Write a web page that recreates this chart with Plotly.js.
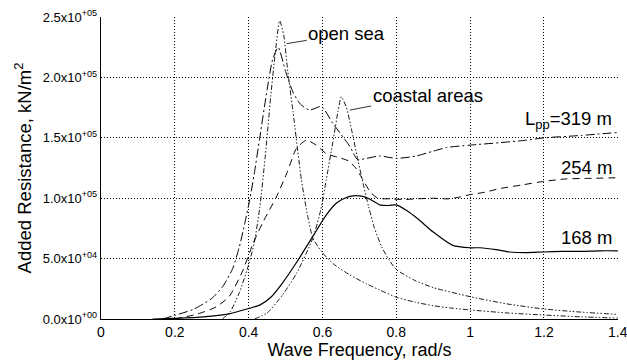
<!DOCTYPE html>
<html>
<head>
<meta charset="utf-8">
<script src="https://cdn.plot.ly/plotly-3.0.1.min.js"></script>
<style>html,body{margin:0;padding:0;background:#fff;}#chart{width:627px;height:363px;}</style>
</head>
<body>
<div id="chart"></div>
<script>
// ---- data ----
const freq168 = [0.14, 0.2, 0.285, 0.35, 0.403, 0.43, 0.46, 0.492, 0.53, 0.573, 0.61, 0.638, 0.66, 0.682, 0.709, 0.73, 0.755, 0.78, 0.8, 0.827, 0.858, 0.9, 0.953, 1.0, 1.026, 1.07, 1.107, 1.15, 1.197, 1.25, 1.3, 1.35, 1.4];
const res168 = [0, 500, 2000, 4500, 9000, 11500, 18000, 30000, 47000, 68000, 86000, 96000, 100000, 102000, 101500, 99000, 94500, 94000, 94500, 90000, 83000, 72000, 61000, 59000, 59000, 57500, 55500, 55000, 55500, 56000, 56000, 56500, 56500];

const freq254 = [0.2, 0.26, 0.312, 0.348, 0.384, 0.411, 0.44, 0.475, 0.505, 0.529, 0.556, 0.583, 0.61, 0.64, 0.67, 0.69, 0.71, 0.73, 0.75, 0.782, 0.82, 0.854, 0.9, 0.94, 0.972, 1.0, 1.04, 1.08, 1.14, 1.2, 1.26, 1.33, 1.4];
const res254 = [0, 4000, 10000, 19000, 40000, 62000, 81000, 101000, 122000, 141000, 148000, 144000, 137000, 134000, 131000, 125000, 115000, 105000, 100000, 99500, 99000, 99500, 100000, 99500, 101000, 103000, 105000, 108000, 111000, 114000, 116000, 116500, 117000];

const freq319 = [0.167, 0.2, 0.25, 0.3, 0.33, 0.357, 0.375, 0.39, 0.403, 0.415, 0.43, 0.45, 0.465, 0.48, 0.5, 0.52, 0.54, 0.565, 0.597, 0.628, 0.674, 0.695, 0.719, 0.755, 0.8, 0.854, 0.9, 0.936, 1.0, 1.08, 1.15, 1.2, 1.3, 1.4];
const res319 = [0, 3000, 8000, 17000, 27000, 42000, 60000, 80000, 99000, 120000, 150000, 190000, 215000, 225000, 205000, 188000, 178000, 173000, 176000, 162000, 143000, 132000, 133000, 135000, 133000, 135000, 139000, 142000, 144000, 146000, 148000, 150000, 152000, 154500];

const freqOpen = [0.329, 0.35, 0.375, 0.4, 0.415, 0.43, 0.445, 0.46, 0.472, 0.484, 0.495, 0.506, 0.52, 0.543, 0.56, 0.574, 0.597, 0.628, 0.674, 0.72, 0.755, 0.8, 0.85, 0.9, 0.95, 1.0, 1.1, 1.2, 1.3, 1.4];
const specOpen = [0, 6000, 22000, 45000, 63000, 92000, 135000, 185000, 220000, 247000, 235000, 205000, 172000, 115000, 85000, 67000, 56000, 46000, 36500, 29000, 24000, 18000, 14000, 11000, 9000, 7500, 5000, 3300, 1800, 800];

const freqCoast = [0.416, 0.45, 0.492, 0.53, 0.574, 0.595, 0.61, 0.63, 0.642, 0.651, 0.665, 0.68, 0.695, 0.71, 0.725, 0.74, 0.76, 0.78, 0.8, 0.85, 0.9, 1.0, 1.1, 1.2, 1.3, 1.4];
const specCoast = [0, 5000, 20000, 38000, 67000, 90000, 115000, 150000, 172000, 184000, 175000, 155000, 133000, 112000, 93000, 76000, 60000, 49000, 41000, 32000, 26000, 18500, 12500, 8300, 5700, 3800];

const xTickVals = [0, 0.2, 0.4, 0.6, 0.8, 1, 1.2, 1.4];
const xTickText = ['0', '0.2', '0.4', '0.6', '0.8', '1', '1.2', '1.4'];
const yTickVals = [0, 50000, 100000, 150000, 200000, 250000];
const yTickText = ['0.0x10<sup>+00</sup>', '5.0x10<sup>+04</sup>', '1.0x10<sup>+05</sup>', '1.5x10<sup>+05</sup>', '2.0x10<sup>+05</sup>', '2.5x10<sup>+05</sup>'];

const labelOpen = 'open sea';
const labelCoast = 'coastal areas';
const label319 = 'L<sub>pp</sub>=319 m';
const label254 = '254 m';
const label168 = '168 m';

// ---- chart ----
const FONT = 'Liberation Sans, Arial, Helvetica, sans-serif';
const specDash = '5px,2px,1.5px,2px,1.5px,2px';

const traces = [
  {x: freqOpen, y: specOpen, mode: 'lines', line: {color: '#000', width: 0.9, dash: specDash, shape: 'spline', smoothing: 0.6}},
  {x: freqCoast, y: specCoast, mode: 'lines', line: {color: '#000', width: 0.9, dash: specDash, shape: 'spline', smoothing: 0.6}},
  {x: freq319, y: res319, mode: 'lines', line: {color: '#000', width: 1, dash: '9px,3px,2px,3px', shape: 'spline', smoothing: 0.6}},
  {x: freq254, y: res254, mode: 'lines', line: {color: '#000', width: 1, dash: '7px,5px', shape: 'spline', smoothing: 0.6}},
  {x: freq168, y: res168, mode: 'lines', line: {color: '#000', width: 1.2, shape: 'spline', smoothing: 0.6}}
];

const axisCommon = {
  showgrid: true, gridcolor: '#000', gridwidth: 1, griddash: '1px,2px',
  zeroline: false, showline: true, linecolor: '#000', linewidth: 1.2,
  ticks: '', ticklabeloverflow: 'allow', tickfont: {family: FONT, size: 14, color: '#000'}
};

const layout = {
  width: 627, height: 363,
  margin: {l: 101, r: 9, t: 17, b: 44},
  paper_bgcolor: '#fff', plot_bgcolor: '#fff',
  showlegend: false,
  font: {family: FONT, color: '#000'},
  xaxis: Object.assign({}, axisCommon, {
    range: [0, 1.4005], tickvals: xTickVals, ticktext: xTickText,
    title: {text: 'Wave Frequency, rad/s', font: {family: FONT, size: 18, color: '#000'}, standoff: 2}
  }),
  yaxis: Object.assign({}, axisCommon, {
    range: [0, 250100], tickvals: yTickVals, ticktext: yTickText,
    tickfont: {family: FONT, size: 13, color: '#000'},
    title: {text: 'Added Resistance, kN/m<sup>2</sup>', font: {family: FONT, size: 18.5, color: '#000'}, standoff: 6}
  }),
  annotations: [
    {x: 0.503, y: 228000, xref: 'x', yref: 'y', text: labelOpen, showarrow: true, arrowhead: 0, arrowwidth: 0.8, arrowcolor: '#000', ax: 60, ay: -10, font: {family: FONT, size: 18.5, color: '#000'}},
    {x: 0.674, y: 173000, xref: 'x', yref: 'y', text: labelCoast, showarrow: true, arrowhead: 0, arrowwidth: 0.8, arrowcolor: '#000', ax: 78, ay: -15, font: {family: FONT, size: 18.5, color: '#000'}},
    {x: 1, y: 164700, xref: 'paper', yref: 'y', xanchor: 'right', xshift: -4, text: label319, showarrow: false, font: {family: FONT, size: 18.5, color: '#000'}},
    {x: 1, y: 125800, xref: 'paper', yref: 'y', xanchor: 'right', xshift: -4, text: label254, showarrow: false, font: {family: FONT, size: 18.5, color: '#000'}},
    {x: 1, y: 67900, xref: 'paper', yref: 'y', xanchor: 'right', xshift: -4, text: label168, showarrow: false, font: {family: FONT, size: 18.5, color: '#000'}}
  ]
};

Plotly.newPlot('chart', traces, layout, {displayModeBar: false, staticPlot: true});
</script>
</body>
</html>
